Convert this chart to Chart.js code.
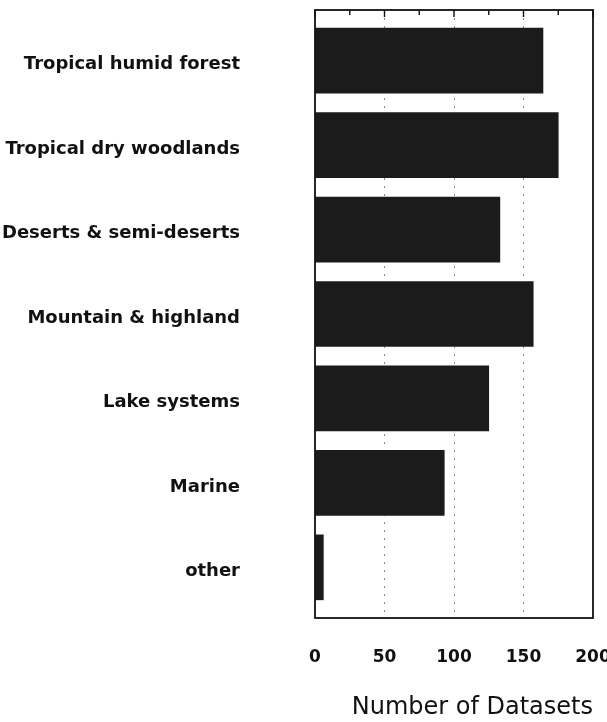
<!DOCTYPE html>
<html>
<head>
<meta charset="utf-8">
<script src="https://cdn.jsdelivr.net/npm/chart.js@4/dist/chart.umd.min.js"></script>
<style>
  html, body { margin: 0; padding: 0; background: #fff; }
  #wrap { width: 607px; height: 722px; }
</style>
</head>
<body>
<div id="wrap"><canvas id="chart1"></canvas></div>
<script>
// data
var categories = ['Tropical humid forest', 'Tropical dry woodlands', 'Deserts & semi-deserts',
                  'Mountain & highland', 'Lake systems', 'Marine', 'other'];
var datasetCounts = [164, 175, 133, 157, 125, 93, 6];
var xTicks = [0, 50, 100, 150, 200];
var xTitle = 'Number of Datasets';

// frame round the plot + small inward ticks along the top
var framePlugin = {
    id: 'frame',
    afterDatasetsDraw: function (chart) {
        var ctx = chart.ctx;
        var a = chart.chartArea;
        var xs = chart.scales.x;
        ctx.save();
        ctx.strokeStyle = '#111';
        ctx.lineWidth = 1.8;
        ctx.strokeRect(a.left, a.top, a.right - a.left, a.bottom - a.top);
        ctx.lineWidth = 1.4;
        for (var v = 0; v <= 200; v += 25) {
            var px = xs.getPixelForValue(v);
            var len = (v % 50 == 0) ? 7 : 5;
            ctx.beginPath();
            ctx.moveTo(px, a.top);
            ctx.lineTo(px, a.top + len);
            ctx.stroke();
        }
        ctx.restore();
    }
};

// no extra padding from the scales, keep the plot box where the picture has it
function noPad(scale) {
    scale.paddingTop = 0;
    scale.paddingBottom = 0;
    scale.paddingLeft = 0;
    scale.paddingRight = 0;
}

var barData = datasetCounts.map(function (v, i) { return { x: v, y: i }; });

var chart = new Chart(document.getElementById('chart1'), {
    type: 'bar',
    data: {
        datasets: [{
            data: barData,
            backgroundColor: '#1b1b1b',
            borderWidth: 0,
            barThickness: 65
        }]
    },
    options: {
        indexAxis: 'y',
        responsive: true,
        maintainAspectRatio: false,
        animation: false,
        layout: { autoPadding: false, padding: { top: 10, right: 14, left: 0, bottom: 0 } },
        plugins: { legend: { display: false }, tooltip: { enabled: false } },
        scales: {
            x: {
                type: 'linear',
                position: 'bottom',
                min: 0,
                max: 200,
                afterBuildTicks: function (scale) {
                    scale.ticks = xTicks.map(function (v) { return { value: v }; });
                },
                afterFit: function (scale) { scale.height = 104; noPad(scale); },
                grid: {
                    drawTicks: false,
                    color: function (c) {
                        var v = c.tick ? c.tick.value : 0;
                        return (v > 0 && v < 200) ? '#8a8a8a' : 'rgba(0,0,0,0)';
                    },
                    lineWidth: 1
                },
                border: { display: false, dash: [2, 6] },
                ticks: {
                    padding: 29,
                    color: '#111',
                    font: { family: 'DejaVu Sans', size: 17, weight: 'bold' }
                },
                title: {
                    display: true,
                    text: xTitle,
                    align: 'end',
                    color: '#111',
                    padding: { top: 0, bottom: 0 },
                    font: { family: 'DejaVu Sans', size: 24 }
                }
            },
            y: {
                type: 'linear',
                reverse: true,
                offset: false,
                min: -0.6,
                max: 6.6,
                afterBuildTicks: function (scale) {
                    scale.ticks = categories.map(function (c, i) { return { value: i }; });
                },
                afterFit: function (scale) { scale.width = 315; noPad(scale); },
                grid: { display: false, drawTicks: false },
                border: { display: false },
                ticks: {
                    padding: 75,
                    labelOffset: 4,
                    color: '#111',
                    font: { family: 'DejaVu Sans', size: 18, weight: 'bold' },
                    callback: function (v) { return categories[v]; }
                }
            }
        }
    },
    plugins: [framePlugin]
});
</script>
</body>
</html>
